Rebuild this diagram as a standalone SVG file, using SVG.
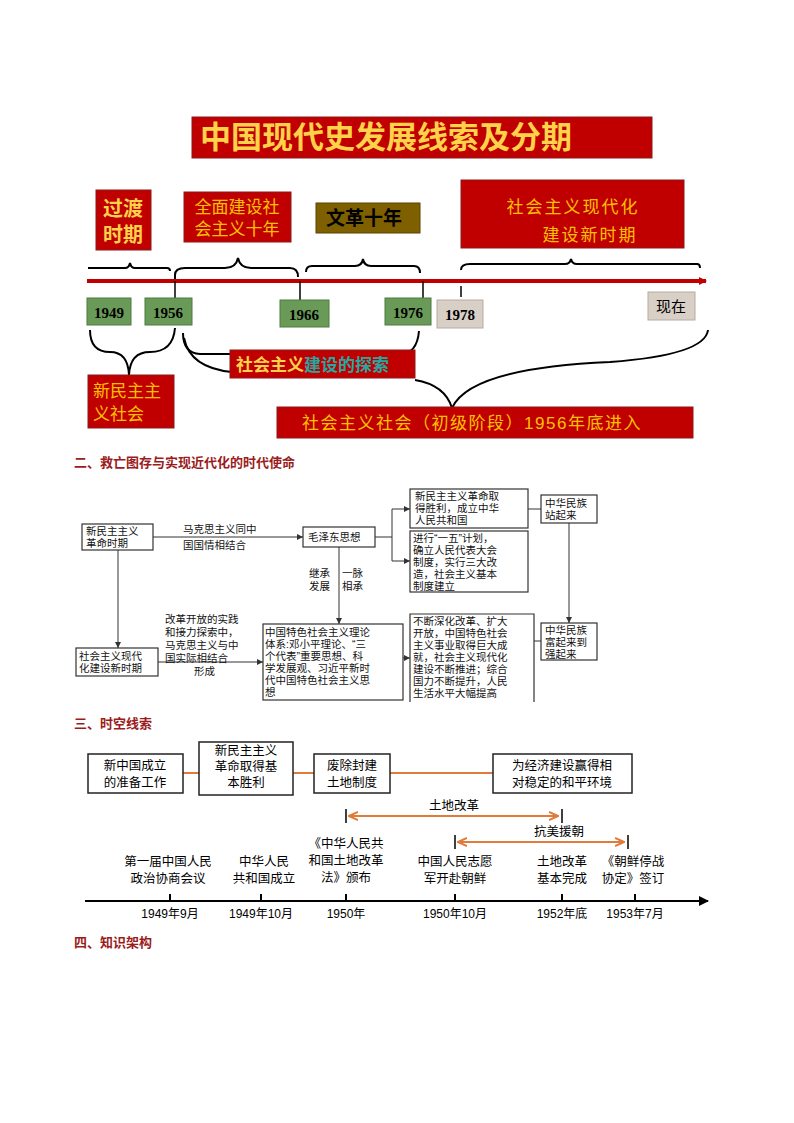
<svg xmlns="http://www.w3.org/2000/svg" width="794" height="1123" viewBox="0 0 794 1123">
<style>
text{font-family:"Liberation Sans","Noto Sans CJK SC",sans-serif}
.rb{fill:#c00000;stroke:#8a1a1a;stroke-width:1}
.yt{fill:#ffd24a;font-weight:bold}
.yr{fill:#ffc000}
.gb{fill:#6a9a58;stroke:#4f7a40}
.yr2{font-family:"Liberation Serif",serif;font-weight:bold;font-size:15px;fill:#000}
.br{fill:none;stroke:#000;stroke-width:2}
.fb{fill:#fff;stroke:#333;stroke-width:1.2}
.ft{font-size:10.5px;fill:#111}
.fl{fill:none;stroke:#333;stroke-width:1}
.hd{font-size:13px;font-weight:bold;fill:#9b1c1c}
.ob{fill:#fff;stroke:#222;stroke-width:1.5}
.ot{font-size:12.5px;fill:#000}
.ol{stroke:#e07b39;stroke-width:2;fill:none}
.tt{font-size:12.5px;fill:#000}
</style>
<defs>
<marker id="ra" markerWidth="8" markerHeight="8" refX="7" refY="4" orient="auto" markerUnits="userSpaceOnUse"><path d="M0,0 L8,4 L0,8z" fill="#c00000"/></marker>
<marker id="ka" markerWidth="6" markerHeight="6" refX="6" refY="3" orient="auto" markerUnits="userSpaceOnUse"><path d="M0,0 L6,3 L0,6z" fill="#333"/></marker>
<marker id="oa" markerWidth="10" markerHeight="10" refX="9" refY="5" orient="auto-start-reverse" markerUnits="userSpaceOnUse"><path d="M0,1 L9,5 L0,9" fill="none" stroke="#e07b39" stroke-width="2"/></marker>
<marker id="ba" markerWidth="10" markerHeight="10" refX="9" refY="5" orient="auto" markerUnits="userSpaceOnUse"><path d="M0,0 L10,5 L0,10z" fill="#000"/></marker>
</defs>

<!-- Part 1 -->
<g id="title"><rect x="192" y="117" width="460" height="41" class="rb"/><text x="200" y="148" font-size="31" class="yt">中国现代史发展线索及分期</text></g>
<g id="guodu"><rect x="96" y="190" width="55" height="60" class="rb"/><text x="123" y="216" text-anchor="middle" font-size="20" class="yt">过渡</text><text x="123" y="242" text-anchor="middle" font-size="20" class="yt">时期</text></g>
<g id="quanmian"><rect x="184" y="192" width="107" height="50" class="rb"/><text x="237" y="213" text-anchor="middle" font-size="17" class="yr">全面建设社</text><text x="237" y="235" text-anchor="middle" font-size="17" class="yr">会主义十年</text></g>
<g id="wenge"><rect x="316" y="203" width="104" height="30" fill="#7f6000" stroke="#5a4400"/><text x="364" y="225" text-anchor="middle" font-size="19" font-weight="bold" fill="#000">文革十年</text></g>
<g id="xinshiqi"><rect x="461" y="180" width="223" height="68" class="rb"/><text x="573" y="213" text-anchor="middle" font-size="17" class="yr" letter-spacing="2">社会主义现代化</text><text x="590" y="241" text-anchor="middle" font-size="17" class="yr" letter-spacing="2">建设新时期</text></g>
<g id="braces-top">
<path class="br" d="M88,268 L125,268 Q129,268 130,263 Q131,268 135,268 L167,268 Q170,268 170,271"/>
<path class="br" d="M175,281 L175,275 Q175,268 185,268 L225,268 Q236,268 238,258 Q240,268 251,268 L290,268 Q298,268 298,277"/>
<path class="br" d="M306,272 Q306,266 312,266 L355,266 Q362,266 363,259 Q364,266 371,266 L414,266 Q420,266 420,273"/>
<path class="br" d="M461,270 Q461,264 470,264 L565,264 Q570,264 571,259 Q572,264 577,264 L697,264 Q700,264 700,268"/>
</g>
<g id="axis"><line x1="87" y1="281" x2="706" y2="281" stroke="#c00000" stroke-width="4" marker-end="url(#ra)"/>
<g stroke="#000" stroke-width="1.5"><line x1="175" y1="281" x2="175" y2="300"/><line x1="300" y1="281" x2="300" y2="301"/><line x1="423" y1="281" x2="423" y2="299"/><line x1="461" y1="286" x2="461" y2="297"/></g></g>
<g id="y1949"><rect x="87" y="298" width="44" height="27" class="gb"/><text x="109" y="318" text-anchor="middle" class="yr2">1949</text></g>
<g id="y1956"><rect x="145" y="298" width="47" height="27" class="gb"/><text x="168" y="318" text-anchor="middle" class="yr2">1956</text></g>
<g id="y1966"><rect x="280" y="300" width="49" height="27" class="gb"/><text x="304" y="320" text-anchor="middle" class="yr2">1966</text></g>
<g id="y1976"><rect x="385" y="298" width="46" height="27" class="gb"/><text x="408" y="318" text-anchor="middle" class="yr2">1976</text></g>
<g id="y1978"><rect x="437" y="300" width="46" height="28" fill="#d8cfc6" stroke="#b9a9a0"/><text x="460" y="320" text-anchor="middle" class="yr2" font-weight="normal">1978</text></g>
<g id="xianzai"><rect x="648" y="292" width="47" height="28" fill="#d8cfc6" stroke="#b9a9a0"/><text x="671" y="312" text-anchor="middle" font-size="15" fill="#000">现在</text></g>
<g id="braces-bottom">
<path class="br" d="M90,330 Q90,352 110,352 Q128,352 129,375 Q130,352 150,352 Q173,352 175,328"/>
<path class="br" d="M183,333 Q183,353 200,354 L283,354 Q292,354 293,362 Q294,354 303,354 L400,354 Q417,354 419,331"/>
<path class="br" d="M184,338 Q190,368 232,372"/>
<path class="br" d="M415,380 Q445,385 452,408 Q470,368 610,362 Q705,355 708,330"/>
</g>
<g id="tansuo"><rect x="230" y="350" width="185" height="28" class="rb"/><text x="236" y="371" font-size="17" font-weight="bold"><tspan fill="#ffd24a">社会主义</tspan><tspan fill="#2aa6a0">建设的探索</tspan></text></g>
<g id="xinminzhu"><rect x="88" y="375" width="86" height="53" class="rb"/><text x="93" y="397" font-size="17" class="yr">新民主主</text><text x="93" y="420" font-size="17" class="yr">义社会</text></g>
<g id="chuji"><rect x="277" y="407" width="416" height="31" class="rb"/><text x="472" y="429" text-anchor="middle" font-size="17" class="yr" letter-spacing="1.5">社会主义社会（初级阶段）1956年底进入</text></g>

<!-- Part 2 -->
<text x="74" y="467" class="hd">二、救亡图存与实现近代化的时代使命</text>
<g id="conn2" class="fl">
<line x1="153" y1="537" x2="303" y2="537" marker-end="url(#ka)"/>
<path d="M375,537 L392,537 M392,509 L392,561"/>
<line x1="392" y1="509" x2="410" y2="509" marker-end="url(#ka)"/>
<line x1="392" y1="561" x2="410" y2="561" marker-end="url(#ka)"/>
<line x1="528" y1="509" x2="541" y2="509"/>
<line x1="569" y1="523" x2="569" y2="623" marker-end="url(#ka)"/>
<line x1="339" y1="547" x2="339" y2="624" marker-end="url(#ka)"/>
<line x1="118" y1="550" x2="118" y2="648" marker-end="url(#ka)"/>
<line x1="158" y1="662" x2="263" y2="662" marker-end="url(#ka)"/>
<line x1="403" y1="658" x2="410" y2="658" marker-end="url(#ka)"/>
<line x1="534" y1="641" x2="541" y2="641"/>
</g>
<g class="ft">
<text x="183" y="533">马克思主义同中</text><text x="183" y="549">国国情相结合</text>
<text x="309" y="577">继承</text><text x="309" y="590">发展</text><text x="342" y="577">一脉</text><text x="342" y="590">相承</text>
<text x="165" y="623">改革开放的实践</text><text x="165" y="636">和接力探索中，</text><text x="165" y="649">马克思主义与中</text><text x="165" y="662">国实际相结合</text><text x="194" y="675">形成</text>
</g>
<g id="n-xmz"><rect x="82" y="524" width="71" height="26" class="fb"/><text class="ft" x="86" y="535">新民主主义</text><text class="ft" x="86" y="547">革命时期</text></g>
<g id="n-mao"><rect x="303" y="527" width="72" height="20" class="fb"/><text class="ft" x="308" y="541">毛泽东思想</text></g>
<g id="n-sl"><rect x="410" y="489" width="118" height="39" class="fb"/><text class="ft" x="415" y="500">新民主主义革命取</text><text class="ft" x="415" y="512">得胜利，成立中华</text><text class="ft" x="415" y="524">人民共和国</text></g>
<g id="n-yw"><rect x="410" y="531" width="118" height="61" class="fb"/><text class="ft" x="413" y="542">进行“一五”计划，</text><text class="ft" x="413" y="554">确立人民代表大会</text><text class="ft" x="413" y="566">制度，实行三大改</text><text class="ft" x="413" y="578">造，社会主义基本</text><text class="ft" x="413" y="590">制度建立</text></g>
<g id="n-zql"><rect x="541" y="495" width="56" height="28" class="fb"/><text class="ft" x="545" y="507">中华民族</text><text class="ft" x="545" y="519">站起来</text></g>
<g id="n-fql"><rect x="541" y="623" width="56" height="37" class="fb"/><text class="ft" x="545" y="634">中华民族</text><text class="ft" x="545" y="646">富起来到</text><text class="ft" x="545" y="658">强起来</text></g>
<g id="n-xsq"><rect x="76" y="648" width="82" height="28" class="fb"/><text class="ft" x="79" y="660">社会主义现代</text><text class="ft" x="79" y="672">化建设新时期</text></g>
<g id="n-zgts"><rect x="263" y="624" width="140" height="76" class="fb"/><text class="ft" x="265" y="636">中国特色社会主义理论</text><text class="ft" x="265" y="648">体系:邓小平理论、“三</text><text class="ft" x="265" y="660">个代表”重要思想、科</text><text class="ft" x="265" y="672">学发展观、习近平新时</text><text class="ft" x="265" y="684">代中国特色社会主义思</text><text class="ft" x="265" y="696">想</text></g>
<g id="n-bd"><path d="M410,702 L410,614 L534,614 L534,702" class="fb"/><text class="ft" x="413" y="625">不断深化改革、扩大</text><text class="ft" x="413" y="637">开放，中国特色社会</text><text class="ft" x="413" y="649">主义事业取得巨大成</text><text class="ft" x="413" y="661">就，社会主义现代化</text><text class="ft" x="413" y="673">建设不断推进；综合</text><text class="ft" x="413" y="685">国力不断提升，人民</text><text class="ft" x="413" y="697">生活水平大幅提高</text></g>

<!-- Part 3 -->
<text x="74" y="728" class="hd">三、时空线索</text>
<g id="conn3">
<line x1="183" y1="773" x2="199" y2="773" class="ol"/><line x1="293" y1="773" x2="314" y2="773" class="ol"/><line x1="390" y1="773" x2="493" y2="773" class="ol"/>
<line x1="349" y1="816" x2="558" y2="816" class="ol" marker-start="url(#oa)" marker-end="url(#oa)"/>
<line x1="458" y1="842" x2="624" y2="842" class="ol" marker-start="url(#oa)" marker-end="url(#oa)"/>
<g stroke="#000" stroke-width="1.5"><line x1="346" y1="809" x2="346" y2="823"/><line x1="562" y1="809" x2="562" y2="823"/><line x1="455" y1="835" x2="455" y2="849"/><line x1="628" y1="835" x2="628" y2="849"/></g>
<line x1="85" y1="901" x2="708" y2="901" stroke="#000" stroke-width="2" marker-end="url(#ba)"/>
<g stroke="#000" stroke-width="2"><line x1="170" y1="894" x2="170" y2="901"/><line x1="261" y1="894" x2="261" y2="901"/><line x1="346" y1="894" x2="346" y2="901"/><line x1="455" y1="894" x2="455" y2="901"/><line x1="562" y1="894" x2="562" y2="901"/><line x1="635" y1="894" x2="635" y2="901"/></g>
</g>
<g id="b1"><rect x="88" y="754" width="95" height="39" class="ob"/><text class="ot" x="135" y="770" text-anchor="middle">新中国成立</text><text class="ot" x="135" y="787" text-anchor="middle">的准备工作</text></g>
<g id="b2"><rect x="199" y="742" width="94" height="53" class="ob"/><text class="ot" x="246" y="755" text-anchor="middle">新民主主义</text><text class="ot" x="246" y="771" text-anchor="middle">革命取得基</text><text class="ot" x="246" y="787" text-anchor="middle">本胜利</text></g>
<g id="b3"><rect x="314" y="754" width="76" height="39" class="ob"/><text class="ot" x="352" y="770" text-anchor="middle">废除封建</text><text class="ot" x="352" y="787" text-anchor="middle">土地制度</text></g>
<g id="b4"><rect x="493" y="754" width="139" height="39" class="ob"/><text class="ot" x="562" y="770" text-anchor="middle">为经济建设赢得相</text><text class="ot" x="562" y="787" text-anchor="middle">对稳定的和平环境</text></g>
<text class="tt" x="454" y="810" text-anchor="middle">土地改革</text>
<text class="tt" x="559" y="836" text-anchor="middle">抗美援朝</text>
<g class="tt" text-anchor="middle">
<text x="168" y="866">第一届中国人民</text><text x="168" y="883">政治协商会议</text>
<text x="264" y="866">中华人民</text><text x="264" y="883">共和国成立</text>
<text x="346" y="848">《中华人民共</text><text x="346" y="865">和国土地改革</text><text x="346" y="882">法》颁布</text>
<text x="455" y="866">中国人民志愿</text><text x="455" y="883">军开赴朝鲜</text>
<text x="562" y="866">土地改革</text><text x="562" y="883">基本完成</text>
<text x="633" y="866">《朝鲜停战</text><text x="633" y="883">协定》签订</text>
<text x="170" y="918" font-size="12">1949年9月</text><text x="261" y="918" font-size="12">1949年10月</text><text x="346" y="918" font-size="12">1950年</text><text x="455" y="918" font-size="12">1950年10月</text><text x="562" y="918" font-size="12">1952年底</text><text x="635" y="918" font-size="12">1953年7月</text>
</g>

<text x="74" y="947" class="hd">四、知识架构</text>
</svg>
